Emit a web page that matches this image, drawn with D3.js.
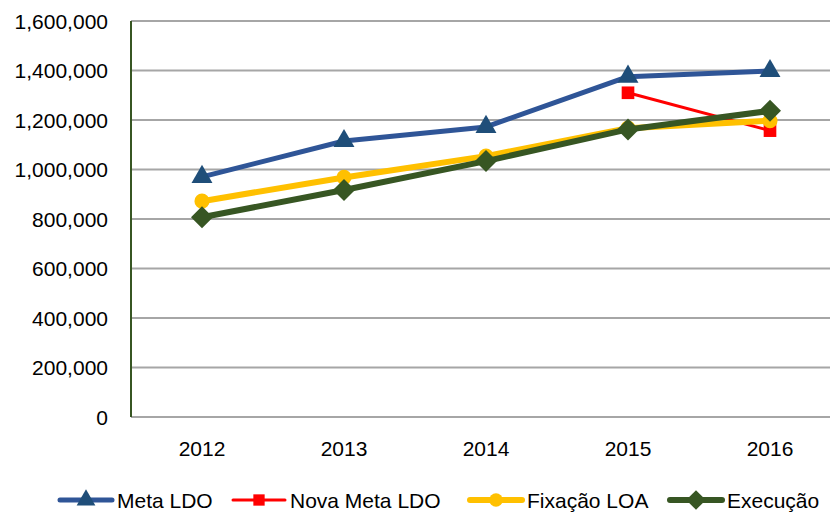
<!DOCTYPE html>
<meta charset="utf-8">
<script src="https://d3js.org/d3.v7.min.js"></script>
<style>
body { margin: 0; background: #fff; }
text { font-family: "Liberation Sans", Arial, sans-serif; fill: #000; }
</style>
<div id="chart"></div>
<script>
// data
var years = ["2012", "2013", "2014", "2015", "2016"];
var yTicks = [0, 200000, 400000, 600000, 800000, 1000000, 1200000, 1400000, 1600000];
var metaLDO = [970000, 1115000, 1172000, 1375000, 1398000];
var novaMetaLDO = [null, null, null, 1310000, 1157000];
var fixacaoLOA = [872000, 968000, 1054000, 1167000, 1197000];
var execucao = [807000, 917000, 1034000, 1162000, 1237000];

var W = 830, H = 512;
var margin = {top: 21, left: 131, bottom: 95};

var svg = d3.select("#chart").append("svg")
    .attr("width", W).attr("height", H);

var x = d3.scaleBand()
    .domain(years)
    .range([margin.left, margin.left + 710]);

var y = d3.scaleLinear()
    .domain([0, 1600000])
    .range([H - margin.bottom, margin.top]);

// gridlines
svg.append("g").selectAll("line")
  .data(yTicks)
  .enter().append("line")
    .attr("x1", margin.left).attr("x2", margin.left + 710)
    .attr("y1", function(d) { return y(d); })
    .attr("y2", function(d) { return y(d); })
    .attr("stroke", "#a6a6a6")
    .attr("stroke-width", 2);

// y axis labels
var fmt = d3.format(",");
svg.append("g").selectAll("text")
  .data(yTicks)
  .enter().append("text")
    .attr("x", 108)
    .attr("y", function(d) { return y(d); })
    .attr("dy", "0.36em")
    .attr("text-anchor", "end")
    .style("font-size", "21px")
    .text(function(d) { return fmt(d); });

// y axis line
svg.append("line")
    .attr("x1", margin.left).attr("x2", margin.left)
    .attr("y1", y(1600000)).attr("y2", y(0))
    .attr("stroke", "#375623")
    .attr("stroke-width", 2);

// x labels
svg.append("g").selectAll("text")
  .data(years)
  .enter().append("text")
    .attr("x", function(d) { return x(d) + x.bandwidth() / 2; })
    .attr("y", 448)
    .attr("dy", "0.36em")
    .attr("text-anchor", "middle")
    .style("font-size", "21px")
    .text(function(d) { return d; });

var series = [
  {name: "Meta LDO", values: metaLDO, line: "#2f5597", marker: "#1f4e79", width: 5, symbol: "triangle"},
  {name: "Nova Meta LDO", values: novaMetaLDO, line: "#ff0000", marker: "#ff0000", width: 3, symbol: "square"},
  {name: "Fixação LOA", values: fixacaoLOA, line: "#ffc000", marker: "#ffc000", width: 6, symbol: "circle"},
  {name: "Execução", values: execucao, line: "#375623", marker: "#375623", width: 6, symbol: "diamond"}
];

function markerPath(sym, s) {
  if (sym === "triangle") return d3.symbol().type(d3.symbolTriangle).size(190 * s)();
  if (sym === "square") return d3.symbol().type(d3.symbolSquare).size(160 * s)();
  if (sym === "circle") return d3.symbol().type(d3.symbolCircle).size(180 * s)();
  return "M0,-11L11,0L0,11L-11,0Z".replace(/11/g, String(11 * Math.sqrt(s)));
}

var line = d3.line()
    .defined(function(d) { return d != null; })
    .x(function(d, i) { return x(years[i]) + x.bandwidth() / 2; })
    .y(function(d) { return y(d); });

series.forEach(function(s) {
  var g = svg.append("g");
  g.append("path")
    .attr("d", line(s.values))
    .attr("fill", "none")
    .attr("stroke", s.line)
    .attr("stroke-width", s.width)
    .attr("stroke-linejoin", "round");
  g.selectAll("path.m")
    .data(s.values.map(function(v, i) { return {v: v, i: i}; }).filter(function(d) { return d.v != null; }))
    .enter().append("path")
      .attr("class", "m")
      .attr("transform", function(d) {
        return "translate(" + (x(years[d.i]) + x.bandwidth() / 2) + "," + y(d.v) + ")";
      })
      .attr("d", markerPath(s.symbol, 1))
      .attr("fill", s.marker);
});

// legend
var legendX = [60, 233, 470, 670];
var leg = svg.append("g");
series.forEach(function(s, i) {
  var g = leg.append("g").attr("transform", "translate(" + legendX[i] + ",500)");
  g.append("line")
    .attr("x1", 0).attr("x2", 52)
    .attr("stroke", s.line)
    .attr("stroke-width", s.width)
    .attr("stroke-linecap", "round");
  g.append("path")
    .attr("transform", "translate(26,0)")
    .attr("d", markerPath(s.symbol, 0.8))
    .attr("fill", s.marker);
  g.append("text")
    .attr("x", 57)
    .attr("dy", "0.36em")
    .style("font-size", "21px")
    .text(s.name);
});
</script>
